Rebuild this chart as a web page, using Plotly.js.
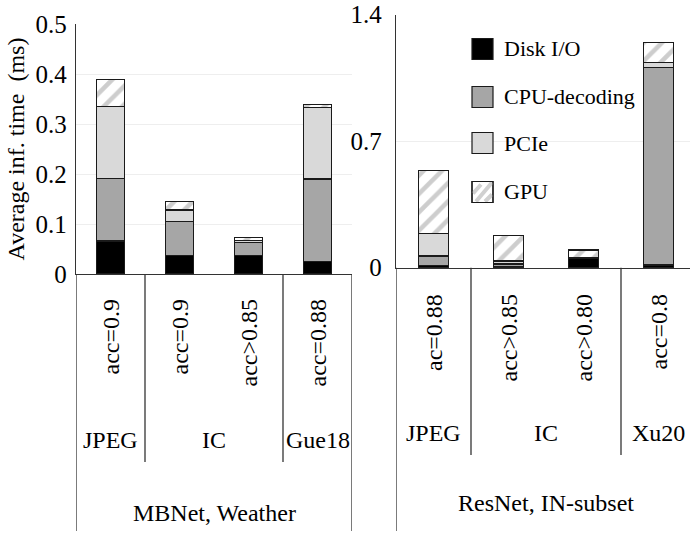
<!DOCTYPE html>
<html><head><meta charset="utf-8">
<script src="https://cdn.plot.ly/plotly-3.0.1.min.js"></script>
<style>html,body{margin:0;padding:0;background:#fff}#chart{width:690px;height:535px}</style>
</head><body><div id="chart"></div>
<script>
// ---- data ----
const seriesNames = ["Disk I/O", "CPU-decoding", "PCIe", "GPU"];
const leftCategories = ["JPEG acc=0.9", "IC acc=0.9", "IC acc>0.85", "Gue18 acc=0.88"];
const leftAccLabels = ["acc=0.9", "acc=0.9", "acc&gt;0.85", "acc=0.88"];
const leftDisk = [0.066, 0.037, 0.037, 0.025];
const leftCpu  = [0.125, 0.068, 0.026, 0.165];
const leftPcie = [0.144, 0.023, 0.004, 0.143];
const leftGpu  = [0.054, 0.017, 0.006, 0.006];
const rightCategories = ["JPEG ac=0.88", "IC acc>0.85", "IC acc>0.80", "Xu20 acc=0.8"];
const rightAccLabels = ["ac=0.88", "acc&gt;0.85", "acc&gt;0.80", "acc=0.8"];
const rightDisk = [0.013, 0.008, 0.050, 0.015];
const rightCpu  = [0.052, 0.012, 0.003, 1.092];
const rightPcie = [0.125, 0.017, 0.003, 0.028];
const rightGpu  = [0.346, 0.140, 0.042, 0.110];
const leftGroups = [["JPEG", 0], ["IC", 1.5], ["Gue18", 3]];
const rightGroups = [["JPEG", 0], ["IC", 1.5], ["Xu20", 3]];
const leftTitle = "MBNet, Weather";
const rightTitle = "ResNet, IN-subset";
const yTitle = "Average inf. time&nbsp; (ms)";
const leftTicks = [0, 0.1, 0.2, 0.3, 0.4, 0.5];
const leftTickText = ["0", "0.1", "0.2", "0.3", "0.4", "0.5"];
const rightTicks = [0, 0.7, 1.4];
const rightTickText = ["0", "0.7", "1.4"];

// ---- styles ----
const W = 690, H = 535;
const px = v => v / W, py = v => 1 - v / H;
const FONT = "Liberation Serif";
const colors = ["#000000", "#a6a6a6", "#d9d9d9", "#ffffff"];
const lineStyle = {color: "#1a1a1a", width: 1.2};
const gpuPattern = {shape: "/", fgcolor: "#cdcdcd", bgcolor: "#ffffff", size: 13, solidity: 0.35};

function mk(cats, vals, i, xa, ya) {
  const m = {color: colors[i], line: lineStyle};
  if (i === 3) m.pattern = gpuPattern;
  return {type: "bar", x: cats, y: vals, name: seriesNames[i], marker: m,
          xaxis: xa, yaxis: ya, showlegend: false, hoverinfo: "skip"};
}
const leftVals = [leftDisk, leftCpu, leftPcie, leftGpu];
const rightVals = [rightDisk, rightCpu, rightPcie, rightGpu];
const traces = [];
leftVals.forEach((v, i) => traces.push(mk(leftCategories, v, i, "x", "y")));
rightVals.forEach((v, i) => traces.push(mk(rightCategories, v, i, "x2", "y2")));

const axisLine = "#333333";
const shapes = [], annotations = [];
const L = {y0: 274, sepBottom: 462, edgeBottom: 531, accTop: 297, groupY: 440, titleY: 513};
const R = {y0: 267.7, sepBottom: 455, edgeBottom: 531, accTop: 292, groupY: 433, titleY: 503};
const ANN = 24;

function lower(xref, cfg, accLabels, groups, title, edges) {
  [0.5, 2.5].forEach(s => shapes.push({type: "line", xref: xref, yref: "paper", x0: s, x1: s,
      y0: py(cfg.y0), y1: py(cfg.sepBottom), line: {color: axisLine, width: 1.3}}));
  edges.forEach(s => shapes.push({type: "line", xref: xref, yref: "paper", x0: s, x1: s,
      y0: py(cfg.y0), y1: py(cfg.edgeBottom), line: {color: axisLine, width: 1.3}}));
  accLabels.forEach((t, i) => annotations.push({xref: xref, yref: "paper", x: i, y: py(cfg.accTop),
      text: t, textangle: -90, showarrow: false, xanchor: "center", yanchor: "top",
      font: {family: FONT, size: ANN, color: "#000"}}));
  groups.forEach(g => annotations.push({xref: xref, yref: "paper", x: g[1], y: py(cfg.groupY),
      text: g[0], showarrow: false, xanchor: "center", yanchor: "middle",
      font: {family: FONT, size: ANN, color: "#000"}}));
  annotations.push({xref: xref, yref: "paper", x: 1.5, y: py(cfg.titleY), text: title,
      showarrow: false, xanchor: "center", yanchor: "middle", font: {family: FONT, size: ANN, color: "#000"}});
}
lower("x", L, leftAccLabels, leftGroups, leftTitle, [-0.5, 3.5]);
lower("x2", R, rightAccLabels, rightGroups, rightTitle, [-0.5]);

// legend (custom, large swatches)
const legX0 = 472, legSize = 21, legRows = [49, 97, 143, 192];
seriesNames.forEach((n, i) => {
  const yc = legRows[i];
  shapes.push({type: "rect", xref: "paper", yref: "paper", x0: px(legX0), x1: px(legX0 + legSize),
    y0: py(yc + legSize / 2), y1: py(yc - legSize / 2), fillcolor: colors[i],
    line: {color: "#1a1a1a", width: 1.2}});
  if (i === 3) {
    const top = yc - legSize / 2, bot = yc + legSize / 2;
    const segs = [[1, bot - 9, 9, bot - 20 + 2], [4, bot - 1, 20, top + 1], [13, bot - 1, 20, bot - 8]];
    segs.forEach(s => shapes.push({type: "line", xref: "paper", yref: "paper",
      x0: px(legX0 + s[0]), y0: py(s[1]), x1: px(legX0 + s[2]), y1: py(s[3]),
      line: {color: "#d0d0d0", width: 4}}));
    shapes.push({type: "rect", xref: "paper", yref: "paper", x0: px(legX0), x1: px(legX0 + legSize),
      y0: py(bot), y1: py(top), fillcolor: "rgba(0,0,0,0)",
      line: {color: "#1a1a1a", width: 1.2}});
  }
  annotations.push({xref: "paper", yref: "paper", x: px(legX0 + legSize + 9), y: py(yc), text: n,
    showarrow: false, xanchor: "left", yanchor: "middle", font: {family: FONT, size: 22, color: "#000"}});
});

const baseX = {type: "category", showticklabels: false, ticks: "", showgrid: false, zeroline: false,
  showline: true, linecolor: axisLine, linewidth: 1.3, fixedrange: true};
const baseY = {showline: true, linecolor: axisLine, linewidth: 1.3, gridcolor: "#eeeeee", gridwidth: 1,
  zeroline: false, ticks: "", tickfont: {family: FONT, size: 25, color: "#000"}, ticklabelstandoff: 3};

const layout = {
  width: W, height: H, margin: {l: 0, r: 0, t: 0, b: 0}, paper_bgcolor: "#fff", plot_bgcolor: "rgba(0,0,0,0)",
  barmode: "stack", bargap: 0.59, showlegend: false,
  font: {family: FONT, color: "#000"},
  xaxis: Object.assign({}, baseX, {domain: [px(76), px(352)], range: [-0.5, 3.5], anchor: "y"}),
  yaxis: Object.assign({}, baseY, {domain: [py(274), py(24)], range: [0, 0.5], anchor: "x",
    tickvals: leftTicks, ticktext: leftTickText,
    title: {text: yTitle, font: {family: FONT, size: 24, color: "#000"}, standoff: 4}}),
  xaxis2: Object.assign({}, baseX, {domain: [px(396), 1], range: [-0.5, 3.42], anchor: "y2"}),
  yaxis2: Object.assign({}, baseY, {domain: [py(267.7), py(14.5)], range: [0, 1.4], anchor: "x2",
    tickvals: rightTicks, ticktext: rightTickText, ticklabelstandoff: 8}),
  shapes: shapes, annotations: annotations
};
Plotly.newPlot("chart", traces, layout, {staticPlot: true, displayModeBar: false});
</script></body></html>
